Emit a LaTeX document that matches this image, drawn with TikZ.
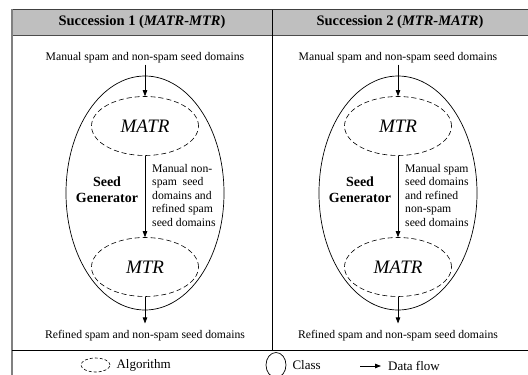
\documentclass[tikz,border=0pt]{standalone}
\usepackage{fontspec}
\setmainfont{Liberation Serif}
\usetikzlibrary{positioning,arrows.meta,shapes.geometric}

\begin{document}
\begin{tikzpicture}[
  x=1pt, y=-1pt,
  class/.style={
    ellipse, draw=black, line width=0.7pt, inner sep=0pt,
    minimum width=158pt, minimum height=234pt
  },
  algo/.style={
    ellipse, draw=black, line width=0.6pt, dash pattern=on 5pt off 3pt,
    inner sep=0pt, minimum width=107pt, minimum height=59pt,
    font=\fontsize{19}{22}\selectfont\itshape
  },
  seedtext/.style={font=\fontsize{11.7}{13.5}\selectfont, inner sep=1pt},
  sidetext/.style={font=\fontsize{11.7}{13.5}\selectfont, align=left, anchor=west, inner sep=0pt},
  title/.style={font=\fontsize{14.5}{17}\selectfont\bfseries},
  gen/.style={font=\fontsize{14}{16}\selectfont\bfseries, align=center},
  legend/.style={font=\fontsize{13}{15}\selectfont, anchor=west, inner sep=0pt},
  flow/.style={-{Triangle[length=6pt,width=4.5pt]}, line width=0.8pt}
]
\useasboundingbox (0,0) rectangle (528,375);

% === Frame ===
\fill[black!25] (12,9.5) rectangle (528,35);
\draw[line width=1.5pt, black!75] (12,9.5) -- (528,9.5);
\draw[line width=0.8pt, black!70] (12,35) -- (528,35);
\draw[line width=1.2pt, black!50] (12,9) -- (12,375);
\draw[line width=0.8pt] (272,9.5) -- (272,350);
\draw[line width=0.8pt] (12,350) -- (528,350);

% === Succession 1 ===
\node[title] (h1) at (142,22) {Succession 1 (\textit{MATR-MTR})};
\node[seedtext] (in1) at (145,58) {Manual spam and non-spam seed domains};
\node[class] (sg1) at (145,193) {};
\node[algo] (a1) at (145,126) {MATR};
\node[algo] (b1) at (145,267) {MTR};
\node[seedtext, inner ysep=7pt] (out1) at (145,336) {Refined spam and non-spam seed domains};
\node[gen] (g1) at (107,190) {Seed\\Generator};
\node[sidetext] (t1) at (152,195)
  {Manual non-\\spam\ \ seed\\domains and\\refined spam\\seed domains};

\draw[flow] (in1.south) -- (a1.north);
\draw[flow] (a1.south) -- (b1.north);
\draw[flow] (b1.south) -- (out1.north);

% === Succession 2 ===
\node[title] (h2) at (400,22) {Succession 2 (\textit{MTR-MATR})};
\node[seedtext] (in2) at (398,58) {Manual spam and non-spam seed domains};
\node[class] (sg2) at (398,193) {};
\node[algo] (a2) at (398,126) {MTR};
\node[algo] (b2) at (398,267) {MATR};
\node[seedtext, inner ysep=7pt] (out2) at (398,336) {Refined spam and non-spam seed domains};
\node[gen] (g2) at (360,190) {Seed\\Generator};
\node[sidetext] (t2) at (405,195)
  {Manual spam\\seed domains\\and refined\\non-spam\\seed domains};

\draw[flow] (in2.south) -- (a2.north);
\draw[flow] (a2.south) -- (b2.north);
\draw[flow] (b2.south) -- (out2.north);

% === Legend ===
\node[algo, minimum width=29pt, minimum height=14pt, dash pattern=on 3pt off 2pt] (la) at (95.5,365) {};
\node[legend, right=6pt of la] (lat) {Algorithm};
\node[class, minimum width=20pt, minimum height=25pt] (lc) at (276,365) {};
\node[legend, right=6pt of lc] (lct) {Class};
\coordinate (lf1) at (360,366);
\coordinate (lf2) at (381,366);
\draw[flow] (lf1) -- (lf2);
\node[legend] (lft) at (388,366) {Data flow};

\end{tikzpicture}
\end{document}
